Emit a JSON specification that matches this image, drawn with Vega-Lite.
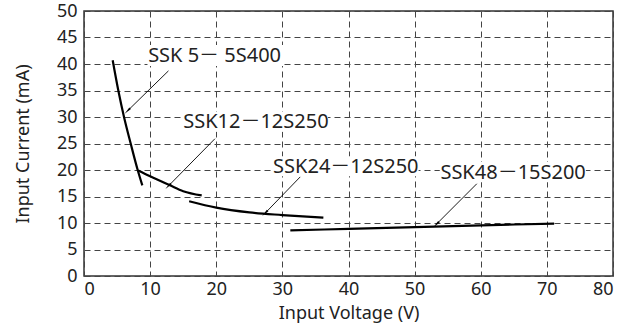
{
  "$schema": "https://vega.github.io/schema/vega-lite/v6.json",
  "autosize": "none",
  "padding": {"left": 84, "top": 11, "right": 30, "bottom": 53},
  "width": 529,
  "height": 265,
  "background": "white",
  "config": {
    "font": "Noto Sans, Noto Sans CJK JP",
    "view": {"stroke": "#333", "strokeWidth": 1.5},
    "axis": {
      "domain": false,
      "ticks": false,
      "grid": true,
      "gridColor": "#444",
      "gridDash": [6, 4],
      "gridWidth": 1,
      "labelOverlap": false,
      "labelBound": false,
      "labelFont": "Noto Sans, Noto Sans CJK JP",
      "labelFontSize": 18,
      "labelColor": "#222",
      "titleFont": "Noto Sans, Noto Sans CJK JP",
      "titleFontSize": 18,
      "titleFontWeight": "normal",
      "titleColor": "#222"
    }
  },
  "datasets": {
    "curves": [
      {"series": "SSK5", "v": 4.34, "i": 40.7},
      {"series": "SSK5", "v": 5.19, "i": 35.0},
      {"series": "SSK5", "v": 6.05, "i": 30.0},
      {"series": "SSK5", "v": 7.06, "i": 25.0},
      {"series": "SSK5", "v": 8.12, "i": 20.0},
      {"series": "SSK5", "v": 8.82, "i": 17.1},
      {"series": "SSK12", "v": 8.2, "i": 19.9},
      {"series": "SSK12", "v": 10.0, "i": 18.8},
      {"series": "SSK12", "v": 13.0, "i": 17.1},
      {"series": "SSK12", "v": 15.0, "i": 16.0},
      {"series": "SSK12", "v": 17.8, "i": 15.2},
      {"series": "SSK24", "v": 15.9, "i": 14.1},
      {"series": "SSK24", "v": 20.0, "i": 12.9},
      {"series": "SSK24", "v": 25.0, "i": 12.0},
      {"series": "SSK24", "v": 30.0, "i": 11.5},
      {"series": "SSK24", "v": 36.2, "i": 11.0},
      {"series": "SSK48", "v": 31.2, "i": 8.6},
      {"series": "SSK48", "v": 40.0, "i": 8.9},
      {"series": "SSK48", "v": 71.1, "i": 9.9}
    ],
    "labels": [
      {"label": "SSK 5－ 5S400", "tx": 9.7, "ty": 41.6, "bx1": 9.6, "bx2": 30.2, "by1": 39.6, "by2": 43.6, "ax": 12.77, "ay": 38.7, "ax2": 6.7, "ay2": 31.3},
      {"label": "SSK12－12S250", "tx": 15.0, "ty": 29.1, "bx1": 14.9, "bx2": 36.9, "by1": 27.2, "by2": 31.0, "ax": 19.8, "ay": 25.9, "ax2": 12.86, "ay2": 17.1},
      {"label": "SSK24－12S250", "tx": 28.6, "ty": 20.6, "bx1": 28.5, "bx2": 50.6, "by1": 18.8, "by2": 22.6, "ax": 32.7, "ay": 18.7, "ax2": 27.5, "ay2": 12.0},
      {"label": "SSK48－15S200", "tx": 53.9, "ty": 19.5, "bx1": 53.8, "bx2": 75.9, "by1": 17.7, "by2": 21.5, "ax": 59.4, "ay": 17.4, "ax2": 53.4, "ay2": 9.9}
    ]
  },
  "layer": [
    {
      "data": {"name": "labels"},
      "mark": {"type": "rect", "fill": "white", "stroke": null},
      "encoding": {
        "x": {"field": "bx1", "type": "quantitative", "scale": {"domain": [0, 80], "nice": false}, "axis": {"tickCount": 8, "title": "Input Voltage (V)", "labelPadding": 4, "titlePadding": 6}},
        "x2": {"field": "bx2"},
        "y": {"field": "by1", "type": "quantitative", "scale": {"domain": [0, 50], "nice": false}, "axis": {"tickCount": 10, "title": "Input Current  (mA)", "labelPadding": 7, "titlePadding": 24}},
        "y2": {"field": "by2"}
      }
    },
    {
      "data": {"name": "labels"},
      "mark": {"type": "rule", "color": "black", "strokeWidth": 0.9},
      "encoding": {
        "x": {"field": "ax", "type": "quantitative"},
        "y": {"field": "ay", "type": "quantitative"},
        "x2": {"field": "ax2"},
        "y2": {"field": "ay2"}
      }
    },
    {
      "data": {"name": "labels"},
      "mark": {"type": "point", "shape": "wedge", "filled": true, "color": "black", "size": 80, "angle": 225, "opacity": 1},
      "encoding": {
        "x": {"field": "ax2", "type": "quantitative"},
        "y": {"field": "ay2", "type": "quantitative"}
      }
    },
    {
      "data": {"name": "labels"},
      "mark": {"type": "text", "align": "left", "baseline": "middle", "fontSize": 20, "color": "#222"},
      "encoding": {
        "x": {"field": "tx", "type": "quantitative"},
        "y": {"field": "ty", "type": "quantitative"},
        "text": {"field": "label"}
      }
    },
    {
      "data": {"name": "curves"},
      "mark": {"type": "line", "color": "black", "strokeWidth": 2.2, "interpolate": "monotone"},
      "encoding": {
        "x": {"field": "v", "type": "quantitative"},
        "y": {"field": "i", "type": "quantitative"},
        "detail": {"field": "series"}
      }
    }
  ]
}
